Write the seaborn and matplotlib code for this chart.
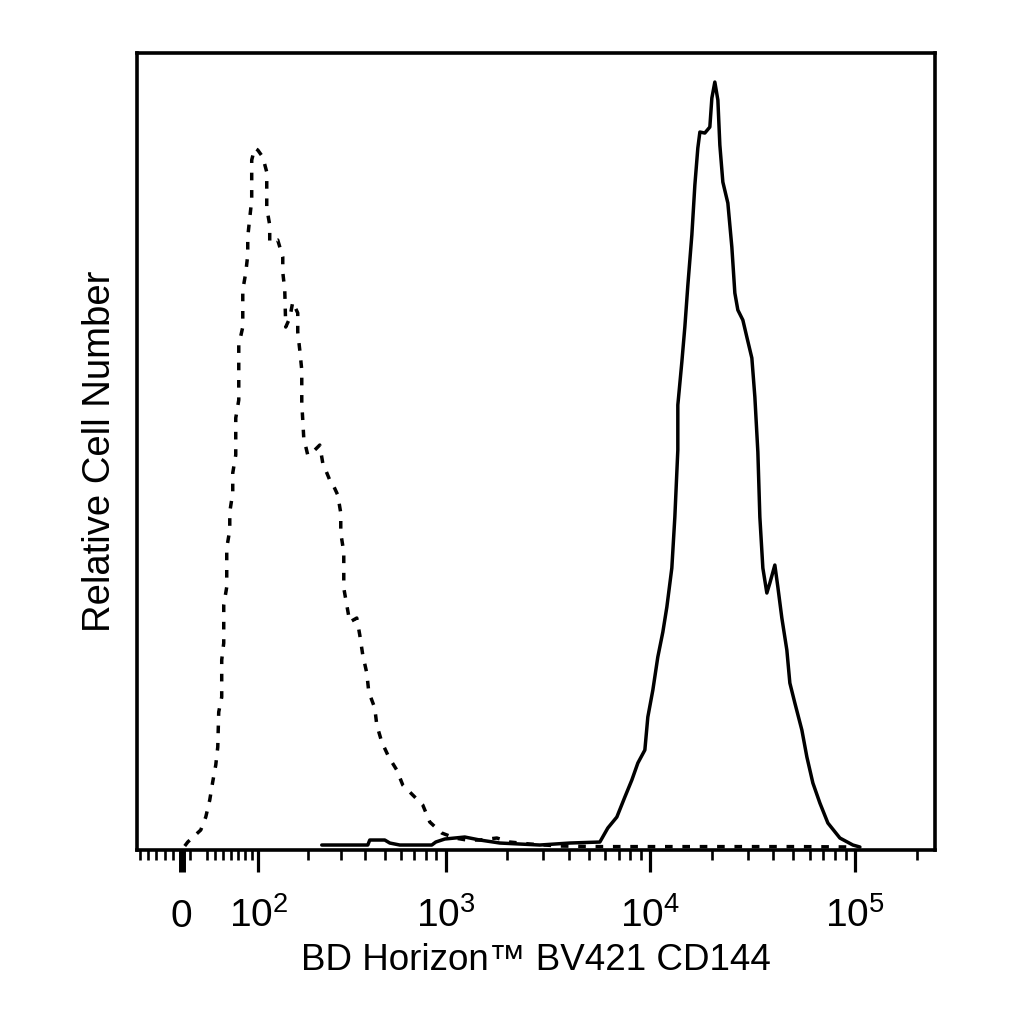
import matplotlib
matplotlib.use("Agg")
import matplotlib.pyplot as plt
import numpy as np
import pandas as pd
import seaborn as sns

# histograma de citometria (isotipo tracejado x CD144 continuo)
iso_x = [3.5, 7, 22.2, 28.2, 33.0, 36.6, 40.4, 42.9, 44.1, 47.9, 47.9,
         50.5, 50.5, 54.4, 54.4, 58.4, 58.4, 62.4, 62.4, 66.5, 66.5,
         70.7, 70.7, 76.4, 76.4, 80.7, 83.7, 83.7, 86.7, 89.7, 89.7,
         94.4, 99.2, 107.4, 114.2, 114.2, 119.4, 119.4, 134.1, 143.9, 143.9,
         147.9, 149.9, 158.3, 164.7, 175.9, 175.9, 180.6, 185.3, 185.3, 187.7,
         190.1, 200.0, 213.0, 232.3, 241.0, 262.4, 268.9, 288.9, 299.4, 299.4,
         310.3, 310.3, 321.5, 333.1, 361.6, 374.5, 387.8, 406.3, 415.8, 445.7,
         456.1, 483.1, 523.5, 573.7, 614.4, 704.3, 771.3, 835.1, 956.7, 1108,
         1269, 1470, 1780, 2060, 2581, 3618, 5675, 17480, 53830, 99900]
iso_y = [0.5, 2.5, 8.5, 15, 23.5, 32.5, 41, 50, 67.5, 75, 93.5,
         102, 121, 130, 149.5, 158.5, 167.5, 177, 187, 196, 214.5,
         223.5, 251, 260, 278.5, 287, 296, 305, 314.5, 323.5, 343.5,
         349.5, 348.5, 345, 337.5, 319.5, 311, 302.5, 303.5, 295, 287.5,
         278.5, 260, 264.5, 272.5, 267, 257.5, 248.5, 238.5, 222, 213.5,
         204.5, 196, 197.5, 201, 192, 183.5, 182.5, 176, 167, 157,
         147.5, 129.5, 121, 112.5, 114.5, 106, 96, 87, 77.5, 69.5,
         61, 52.5, 45, 38.5, 31, 25, 21, 12.5, 7, 4.5,
         3.5, 3.5, 4.5, 2.5, 1.5, 0.5, 0.2, 0.2, 0.2, 0]

cd_x = [238.1, 411, 420.6, 500, 529.6, 593.8, 854.3, 893.8, 989.7, 1240,
        1470, 1841, 2888, 4048, 5675, 6206, 6870, 7518, 8132, 8701,
        9414, 9734, 10300, 10890, 11525, 12056, 12750, 13190, 13640, 13640,
        14270, 14760, 15270, 15970, 16520, 17080, 17480, 18480, 19550, 20000,
        20680, 21400, 21880, 22630, 23940, 25040, 25900, 26790, 28340, 29640,
        31360, 32440, 33550, 34310, 35490, 37120, 38400, 40610, 42010, 43940,
        46480, 48080, 50860, 55030, 58230, 62290, 67390, 73740, 84400, 97690,
        105700]
cd_y = [1, 1, 3.5, 3.5, 2, 1, 1, 2.5, 4, 5,
        3.5, 2, 1, 2, 2.5, 9.5, 15, 25, 33.5, 42,
        48.5, 65, 78.5, 95, 107.5, 120, 139.5, 165, 198.5, 221,
        242.5, 260, 281, 306, 331, 349.5, 357.5, 357, 360, 374.5,
        382.5, 373.5, 351, 332.5, 322, 300, 277, 268.5, 263.5, 255,
        244.5, 225, 197.5, 165, 139.5, 127, 132, 141, 130, 114.5,
        98.5, 82, 72, 58.5, 45, 32, 22, 12, 4.5, 1,
        0]

major_ticks = [0, 100, 1000, 10000, 100000]
major_labels = ["0", r"$\mathregular{10^2}$", r"$\mathregular{10^3}$",
                r"$\mathregular{10^4}$", r"$\mathregular{10^5}$"]
minor_ticks = ([-50, -40, -30, -20, -10, 10, 30, 40, 50, 60, 70, 80, 90]
               + [200, 300, 400, 500, 600, 700, 800, 900]
               + [2000, 3000, 4000, 5000, 6000, 7000, 8000, 9000]
               + [20000, 30000, 40000, 50000, 60000, 70000, 80000, 90000]
               + [200000])

df = pd.concat([
    pd.DataFrame({"intensity": iso_x, "count": iso_y, "sample": "Isotype"}),
    pd.DataFrame({"intensity": cd_x, "count": cd_y, "sample": "CD144"}),
], ignore_index=True)

sns.set_style("white")
plt.rcParams["font.family"] = ["Liberation Sans", "DejaVu Sans"]

fig = plt.figure(figsize=(10.24, 10.24), dpi=100)
ax = fig.add_axes([0.1338, 0.1699, 0.7793, 0.7783])

sns.lineplot(data=df, x="intensity", y="count", style="sample",
             dashes={"Isotype": (2.2, 2.8), "CD144": ""},
             color="black", linewidth=2.5, sort=False, estimator=None,
             legend=False, ax=ax)

# escala tipo biexponencial (arcsinh)
ax.set_xscale("function", functions=(lambda v: np.arcsinh(np.asarray(v) / 103.0),
                                     lambda u: 103.0 * np.sinh(np.asarray(u))))
ax.set_xlim(-54, 246000)
ax.set_ylim(-1.5, 397)

ax.set_xticks(major_ticks, major_labels)
ax.set_xticks(minor_ticks, minor=True)
ax.set_yticks([])
ax.tick_params(axis="x", which="major", bottom=True, direction="out", length=15.8,
               width=2.3, labelsize=28, pad=39.6, color="black", labelcolor="black")
ax.tick_params(axis="x", which="minor", bottom=True, direction="out", length=7,
               width=1.9, color="black")
ax.xaxis.get_major_ticks()[0].tick1line.set_markeredgewidth(5)
for lab in ax.get_xticklabels():
    lab.set_verticalalignment("baseline")

for s in ax.spines.values():
    s.set_visible(True)
    s.set_linewidth(2.6)
    s.set_color("black")

ax.set_xlabel("BD Horizon™ BV421 CD144", fontsize=26.5, color="black")
ax.xaxis.label.set_verticalalignment("baseline")
ax.xaxis.set_label_coords(0.5, -0.1506)
ax.set_ylabel("Relative Cell Number", fontsize=27.5, color="black")
ax.yaxis.label.set_verticalalignment("baseline")
ax.yaxis.set_label_coords(-0.0338, 0.5)

fig.savefig("out.png", dpi=100, facecolor="white")
